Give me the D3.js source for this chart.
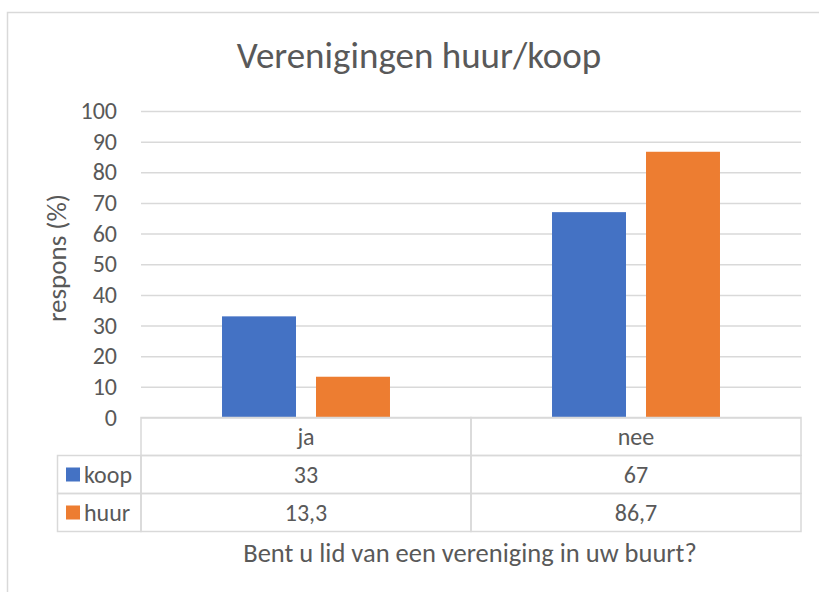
<!DOCTYPE html>
<html>
<head>
<meta charset="utf-8">
<script src="https://cdn.jsdelivr.net/npm/d3@7"></script>
<style>
  body { margin: 0; background: #fff; }
  text { font-family: Carlito, Calibri, Lato, sans-serif; fill: #595959; }
</style>
</head>
<body>
<div id="chart"></div>
<script>
var categories = ['ja', 'nee'];
var seriesNames = ['koop', 'huur'];
var koop = [33, 67];
var huur = [13.3, 86.7];
var koopLabels = ['33', '67'];
var huurLabels = ['13,3', '86,7'];
var yTicks = [0, 10, 20, 30, 40, 50, 60, 70, 80, 90, 100];
var colors = ['#4472C4', '#ED7D31'];

var width = 819, height = 592;
var plotLeft = 141, plotRight = 801, plotTop = 111, plotBottom = 417.5;
var rowH = 38;

var svg = d3.select('#chart').append('svg')
  .attr('width', width)
  .attr('height', height);

// chart frame (only left and top edge are visible)
svg.append('rect')
  .attr('x', 7.5).attr('y', 12.5)
  .attr('width', 830).attr('height', 600)
  .attr('fill', 'none').attr('stroke', '#D9D9D9').attr('stroke-width', 1.5);

var y = d3.scaleLinear().domain([0, 100]).range([plotBottom, plotTop]);
var x0 = d3.scaleBand().domain(categories).range([plotLeft, plotRight])
  .paddingInner(0.491).paddingOuter(0.2455);
var x1 = d3.scaleBand().domain(seriesNames).range([0, x0.bandwidth()])
  .paddingInner(0.2128);

// gridlines + tick labels
var yAxis = svg.append('g')
  .attr('transform', 'translate(' + plotLeft + ',0)')
  .call(d3.axisLeft(y).tickValues(yTicks).tickSize(-(plotRight - plotLeft)).tickPadding(24));
yAxis.select('.domain').remove();
yAxis.selectAll('.tick line').attr('stroke', '#D9D9D9').attr('stroke-width', 1.5);
yAxis.selectAll('.tick text')
  .style('font-size', '24px')
  .attr('fill', '#595959');

// bars
var rows = categories.map(function(c, i) { return {cat: c, values: [koop[i], huur[i]]}; });
var groups = svg.selectAll('g.group')
  .data(rows).enter()
  .append('g').attr('class', 'group')
  .attr('transform', function(d) { return 'translate(' + x0(d.cat) + ',0)'; });
groups.selectAll('rect')
  .data(function(d) { return d.values.map(function(v, j) { return {name: seriesNames[j], value: v, j: j}; }); })
  .enter().append('rect')
  .attr('x', function(d) { return x1(d.name); })
  .attr('y', function(d) { return y(d.value); })
  .attr('width', x1.bandwidth())
  .attr('height', function(d) { return y(0) - y(d.value); })
  .attr('fill', function(d) { return colors[d.j]; });

// data table under the axis
var table = svg.append('g');
var step = x0.step();
var legendLeft = 57.5;
var lineStyle = function(sel) { return sel.attr('stroke', '#D9D9D9').attr('stroke-width', 1.5).attr('fill', 'none'); };
var tableFont = '24px';

// header row (categories)
categories.forEach(function(c, i) {
  var cx = plotLeft + i * step;
  table.append('rect').call(lineStyle)
    .attr('x', cx).attr('y', plotBottom).attr('width', step).attr('height', rowH);
  table.append('text')
    .attr('x', cx + step / 2).attr('y', plotBottom + rowH / 2)
    .attr('dy', '0.35em').attr('text-anchor', 'middle')
    .style('font-size', tableFont).text(c);
});

var tableRows = [koopLabels, huurLabels];
tableRows.forEach(function(labels, r) {
  var ry = plotBottom + rowH * (r + 1);
  table.append('rect').call(lineStyle)
    .attr('x', legendLeft).attr('y', ry).attr('width', plotLeft - legendLeft).attr('height', rowH);
  table.append('rect')
    .attr('x', 66).attr('y', ry + rowH / 2 - 7)
    .attr('width', 14).attr('height', 14)
    .attr('fill', colors[r]);
  table.append('text')
    .attr('x', 84).attr('y', ry + rowH / 2)
    .attr('dy', '0.35em')
    .style('font-size', tableFont).text(seriesNames[r]);
  labels.forEach(function(l, i) {
    var cx = plotLeft + i * step;
    table.append('rect').call(lineStyle)
      .attr('x', cx).attr('y', ry).attr('width', step).attr('height', rowH);
    table.append('text')
      .attr('x', cx + step / 2).attr('y', ry + rowH / 2)
      .attr('dy', '0.35em').attr('text-anchor', 'middle')
      .style('font-size', tableFont).text(l);
  });
});

// titles
svg.append('text')
  .attr('x', 419).attr('y', 68)
  .attr('text-anchor', 'middle')
  .style('font-size', '37px').style('font-weight', 300)
  .text('Verenigingen huur/koop');

svg.append('text')
  .attr('transform', 'translate(66,258) rotate(-90)')
  .attr('text-anchor', 'middle')
  .style('font-size', '27px')
  .text('respons (%)');

svg.append('text')
  .attr('x', 470).attr('y', 562)
  .attr('text-anchor', 'middle')
  .style('font-size', '26.5px')
  .text('Bent u lid van een vereniging in uw buurt?');
</script>
</body>
</html>
